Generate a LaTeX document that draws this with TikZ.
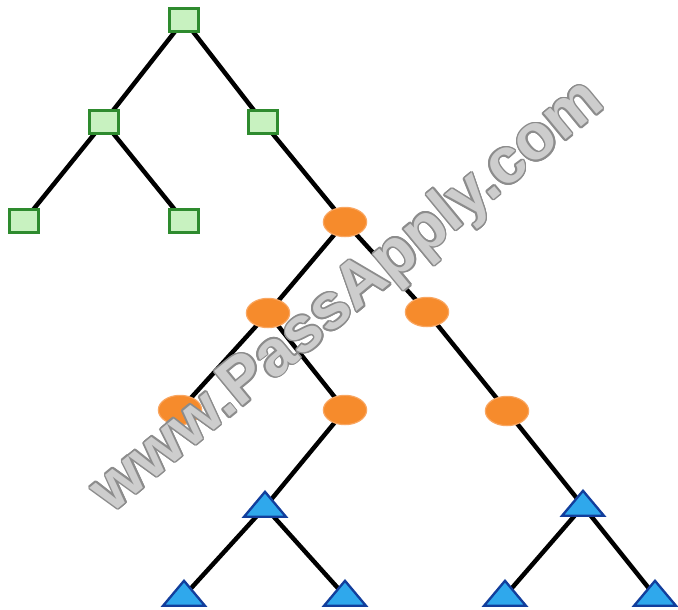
\documentclass[tikz,border=0pt]{standalone}
\usepackage{fontspec}
\setsansfont{Liberation Sans}
\usepackage{contour}
\contourlength{1.3pt}
\usetikzlibrary{shapes.geometric,backgrounds}
\definecolor{boxgreen}{HTML}{C8F2C0}
\definecolor{boxedge}{HTML}{2E8B2E}
\definecolor{dotorange}{HTML}{F68B2C}
\definecolor{dotedge}{HTML}{F9A661}
\definecolor{triblue}{HTML}{2FA8EC}
\definecolor{triedge}{HTML}{123E9C}
\definecolor{wmfill}{HTML}{CDCDCD}
\definecolor{wmedge}{HTML}{8C8C8C}
\tikzset{
  sq/.style={draw=boxedge,fill=boxgreen,line width=2.2pt,minimum width=0.88cm,minimum height=0.7cm,inner sep=0pt},
  dot/.style={ellipse,draw=dotedge,fill=dotorange,line width=1pt,minimum width=1.3cm,minimum height=0.88cm,inner sep=0pt},
  tri/.style={isosceles triangle,isosceles triangle apex angle=80,shape border rotate=90,draw=triedge,fill=triblue,line width=2pt,inner sep=0pt,minimum height=0.75cm,minimum width=0.5cm},
  edge/.style={line width=3.8pt,black}
}
\begin{document}
\begin{tikzpicture}[x=0.03cm,y=-0.03cm]
        \useasboundingbox (0,0) rectangle (678,609);
        %% Squares
        \node[sq] (r) at (184,20) {};
        \node[sq] (s1) at (104,122) {};
        \node[sq] (s2) at (263,122) {};
        \node[sq] (s3) at (24,221) {};
        \node[sq] (s4) at (184,221) {};
        %% Circles
        \node[dot] (c1) at (345,222) {};
        \node[dot] (c2) at (268,313) {};
        \node[dot] (c3) at (427,312) {};
        \node[dot] (c4) at (180,410) {};
        \node[dot] (c5) at (345,410) {};
        \node[dot] (c6) at (507,411) {};
        %% Triangles
        \node[tri] (t1) at (265,507) {};
        \node[tri] (t2) at (583,506) {};
        \node[tri] (t3) at (184,596) {};
        \node[tri] (t4) at (345,596) {};
        \node[tri] (t5) at (505,596) {};
        \node[tri] (t6) at (655,596) {};
        %% Edges
        \begin{scope}[on background layer]
        \foreach \a/\b in {r/s1,r/s2,s1/s3,s1/s4,s2/c1,c1/c2,c1/c3,c2/c4,c2/c5,c3/c6,c5/t1,c6/t2,t1/t3,t1/t4,t2/t5,t2/t6}
          \draw[edge] (\a.center) -- (\b.center);
        \end{scope}
        %% Watermark
        \node[rotate=39.5,text=wmfill,font=\sffamily\bfseries\fontsize{55}{55}\selectfont] (wm) at (349,298) {\contour{wmedge}{www.PassApply.com}};
\end{tikzpicture}
\end{document}
